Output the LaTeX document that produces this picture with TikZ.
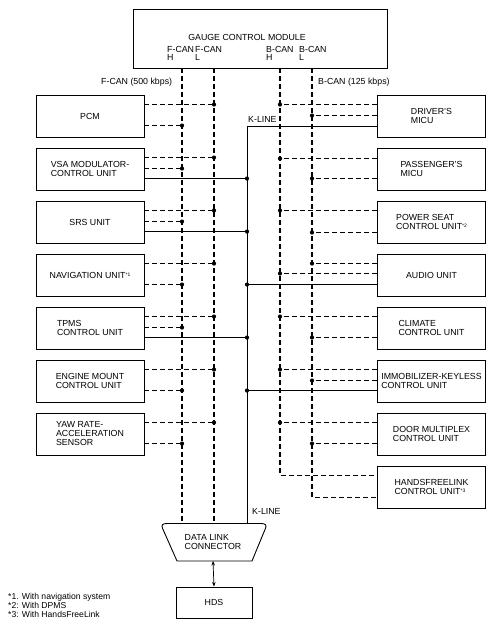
\documentclass[tikz,border=0pt]{standalone}
\usepackage{fontspec}
\setmainfont{Liberation Sans}
\usetikzlibrary{calc,arrows.meta}
\newcommand\diafont{\fontsize{8.8}{9}\selectfont}
\newcommand\gcmfont{\fontsize{8.8}{8}\selectfont}
\newcommand\notefont{\fontsize{8.6}{9}\selectfont}
\newcommand\fnmark[1]{\raisebox{1.6pt}{\fontsize{5}{5}\selectfont #1}}
\begin{document}
\begin{tikzpicture}[x={(1pt,0)}, y={(0,-1pt)},
  box/.style={draw, line width=0.9pt, minimum width=108pt, minimum height=42pt,
    align=left, font=\diafont, inner sep=2pt},
  can/.style={line width=1.1pt, dash pattern=on 5pt off 3pt},
  kl/.style={line width=0.7pt},
  jdot/.style={circle, fill=black, draw=none, solid, inner sep=0pt, minimum size=4.2pt},
  lbl/.style={font=\diafont, inner sep=0pt}]
\useasboundingbox (0,0) rectangle (496,630);

% bus x positions
\coordinate (FH) at (182,0);
\coordinate (FL) at (214,0);
\coordinate (BH) at (280,0);
\coordinate (BL) at (312,0);
\coordinate (KL) at (247,0);

% gauge control module
\node[draw, line width=0.9pt, minimum width=254pt, minimum height=59pt, inner sep=0pt] (gcm) at (260,38.5) {};
\node[lbl] (gcmt) at (247,37) {GAUGE CONTROL MODULE};
\node[lbl, font=\gcmfont, anchor=north west, align=left] (fhl) at (167,46.5) {F-CAN\\H};
\node[lbl, font=\gcmfont, anchor=north west, align=left] (fll) at (195,46.5) {F-CAN\\L};
\node[lbl, font=\gcmfont, anchor=north west, align=left] (bhl) at (266,46.5) {B-CAN\\H};
\node[lbl, font=\gcmfont, anchor=north west, align=left] (bll) at (299,46.5) {B-CAN\\L};

\node[lbl, anchor=west] (fcan) at (101,82) {F-CAN (500 kbps)};
\node[lbl, anchor=west] (bcan) at (318,82) {B-CAN (125 kbps)};

% left units
\node[box] (pcm)  at (90,116) {PCM};
\node[box] (vsa)  at (90,169) {VSA MODULATOR-\\CONTROL UNIT};
\node[box] (srs)  at (90,222) {SRS UNIT};
\node[box] (nav)  at (90,275) {NAVIGATION UNIT\fnmark{*1}};
\node[box] (tpms) at (90,328) {TPMS\\CONTROL UNIT};
\node[box] (emc)  at (90,381) {ENGINE MOUNT\\CONTROL UNIT};
\node[box] (yaw)  at (90,434) {YAW RATE-\\ACCELERATION\\SENSOR};

% right units
\node[box] (drv) at (431.5,116) {DRIVER'S\\MICU};
\node[box] (pas) at (431.5,169) {PASSENGER'S\\MICU};
\node[box] (pws) at (431.5,222) {POWER SEAT\\CONTROL UNIT\fnmark{*2}};
\node[box] (aud) at (431.5,275) {AUDIO UNIT};
\node[box] (cli) at (431.5,328) {CLIMATE\\CONTROL UNIT};
\node[box] (imm) at (431.5,381) {IMMOBILIZER-KEYLESS\\CONTROL UNIT};
\node[box] (dmx) at (431.5,434) {DOOR MULTIPLEX\\CONTROL UNIT};
\node[box] (hfl) at (431.5,487) {HANDSFREELINK\\CONTROL UNIT\fnmark{*3}};

% data link connector and HDS
\node[lbl, align=left] (dlc) at (213,542) {DATA LINK\\CONNECTOR};
\draw[line width=0.9pt] (177,561) -- (162.6,528.5)
  .. controls (161,525) and (162.5,523.5) .. (167,523.5) -- (261,523.5)
  .. controls (265.5,523.5) and (267,525) .. (265.4,528.5) -- (252,561) -- cycle;
\coordinate (dlcT) at (214,523.5);
\coordinate (dlcB) at (213,561);
\node[box, minimum width=76pt, minimum height=31pt] (hds) at (214,602.5) {HDS};
\draw[kl, {Stealth[length=4.5pt,width=3.5pt]}-{Stealth[length=4.5pt,width=3.5pt]}] (dlcB) -- (hds.north);

% bus lines
\draw[can] (gcm.south -| FH) -- ($(FH |- dlcT)+(0,-1.5)$);
\draw[can] (gcm.south -| FL) -- ($(FL |- dlcT)+(0,-1.5)$);
\coordinate (hA) at ($(hfl.north west)+(0,10)$);
\coordinate (hB) at ($(hfl.north west)+(0,32)$);
\draw[can] (gcm.south -| BH) -- (BH |- hA) -- (hA);
\draw[can] (gcm.south -| BL) -- (BL |- hB) -- (hB);

% K-line
\coordinate (dK) at ($(drv.north west)+(0,32)$);
\draw[kl] (dK) -- (KL |- dK) -- (KL |- dlcT);
\node[lbl, anchor=west] (kt) at (248,119) {K-LINE};
\node[lbl, anchor=west] (kb) at (252,511) {K-LINE};

% left dashed connections
\foreach \b/\o/\bus in {pcm/10/FL, pcm/31/FH, vsa/10/FL, vsa/21/FH, srs/10/FL, srs/21/FH,
    nav/10/FL, nav/31/FH, tpms/10/FL, tpms/21/FH, emc/10/FL, emc/31/FH, yaw/10/FL, yaw/31/FH}{
  \coordinate (c) at ($(\b.north east)+(0,\o)$);
  \draw[can] (c) -- (c -| \bus);
  \node[jdot] at (c -| \bus) {};
}
% right dashed connections
\foreach \b/\o/\bus in {drv/10/BH, drv/21/BL, pas/11/BH, pas/31/BL, pws/10/BH, pws/32/BL,
    aud/10/BL, aud/20/BH, cli/10/BH, cli/31/BL, imm/10/BH, imm/21/BL, dmx/10/BH, dmx/31/BL}{
  \coordinate (c) at ($(\b.north west)+(0,\o)$);
  \draw[can] (c) -- (c -| \bus);
  \node[jdot] at (c -| \bus) {};
}
% K-line connections
\foreach \b in {vsa, srs, tpms}{
  \coordinate (c) at ($(\b.north east)+(0,31)$);
  \draw[kl] (c) -- (c -| KL);
  \node[jdot] at (c -| KL) {};
}
\foreach \b in {aud, imm}{
  \coordinate (c) at ($(\b.north west)+(0,31)$);
  \draw[kl] (c) -- (c -| KL);
  \node[jdot] at (c -| KL) {};
}

% footnotes
\node[lbl, font=\notefont, anchor=north west, align=left] (notes) at (8,593)
  {*1. With navigation system\\*2: With DPMS\\*3: With HandsFreeLink};
\end{tikzpicture}
\end{document}
